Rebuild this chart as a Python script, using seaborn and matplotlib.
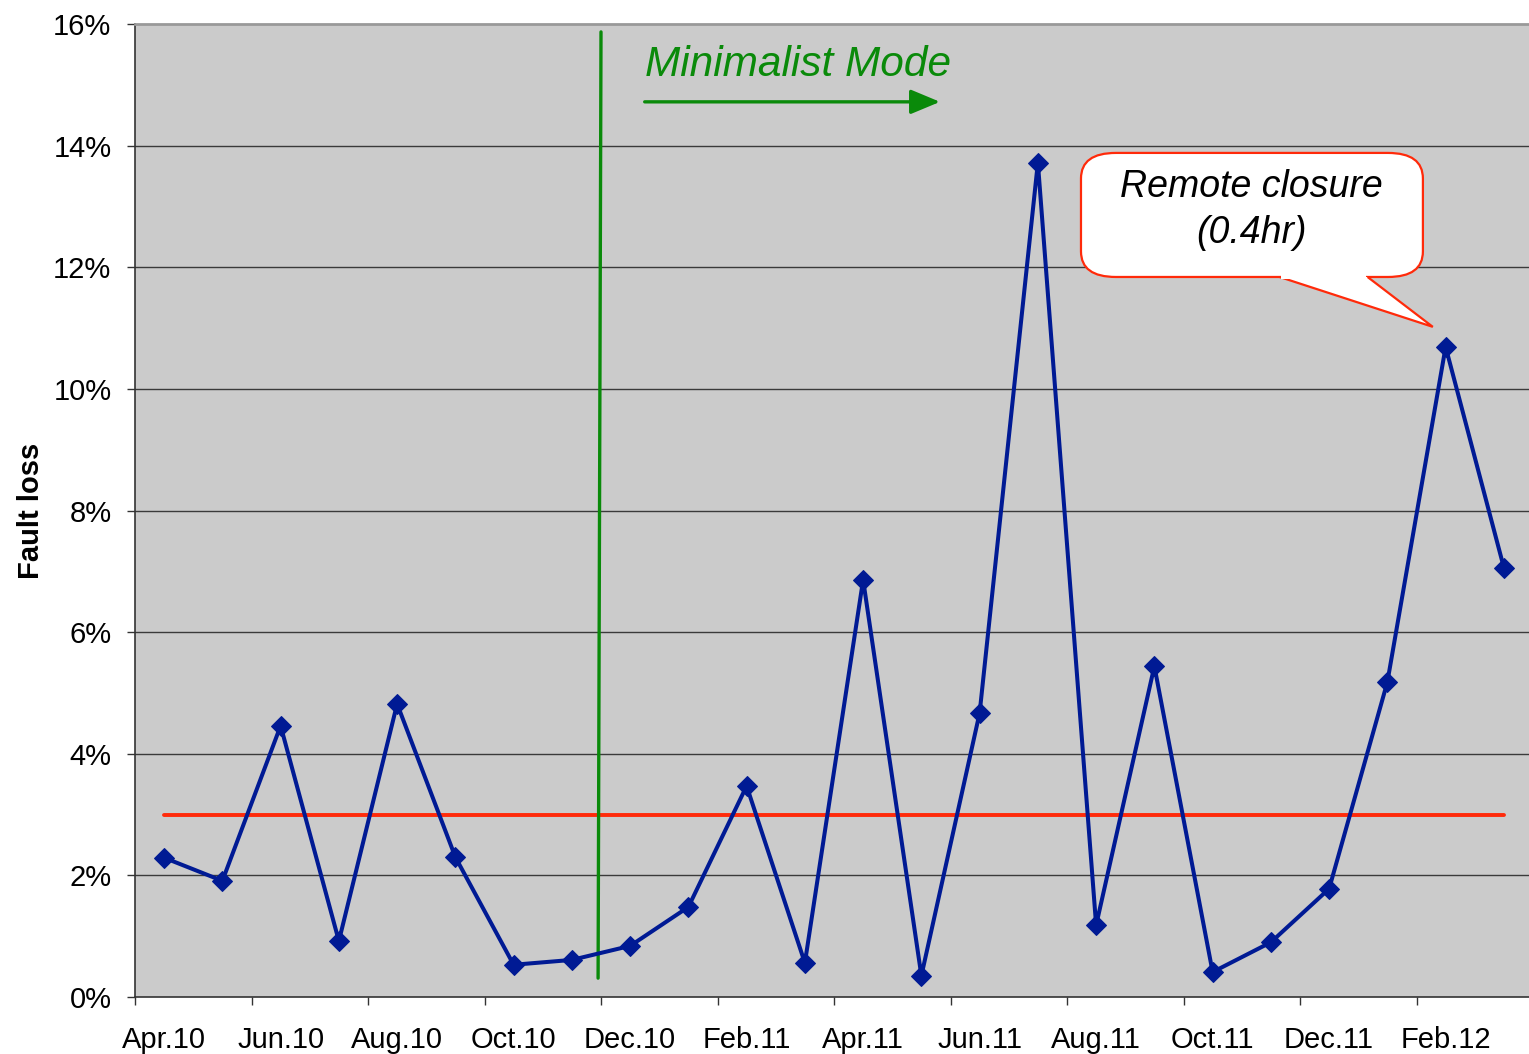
import numpy as np
import pandas as pd
import matplotlib
matplotlib.use("Agg")
import matplotlib.pyplot as plt
import seaborn as sns
from matplotlib.patches import FancyBboxPatch, Polygon

# Monthly fault loss (%) Apr.10 - Mar.12
months = ["Apr.10", "May.10", "Jun.10", "Jul.10", "Aug.10", "Sep.10",
          "Oct.10", "Nov.10", "Dec.10", "Jan.11", "Feb.11", "Mar.11",
          "Apr.11", "May.11", "Jun.11", "Jul.11", "Aug.11", "Sep.11",
          "Oct.11", "Nov.11", "Dec.11", "Jan.12", "Feb.12", "Mar.12"]
fault_loss = [2.29, 1.91, 4.46, 0.92, 4.82, 2.30,
              0.53, 0.61, 0.84, 1.48, 3.47, 0.56,
              6.86, 0.35, 4.67, 13.72, 1.18, 5.44,
              0.41, 0.90, 1.78, 5.18, 10.69, 7.06]
target = 3.0
y_ticks = [0, 2, 4, 6, 8, 10, 12, 14, 16]

df = pd.DataFrame({"idx": np.arange(len(months)), "month": months,
                   "loss": fault_loss})

sns.set_style("white", {"axes.facecolor": "#cbcbcb"})
plt.rcParams["font.family"] = ["Liberation Sans", "DejaVu Sans"]
plt.rcParams["text.color"] = "black"
plt.rcParams["xtick.color"] = "black"
plt.rcParams["ytick.color"] = "black"
plt.rcParams["axes.labelcolor"] = "black"

fig = plt.figure(figsize=(15.29, 10.54), dpi=100)
# plot area runs slightly past the right edge of the picture
ax = fig.add_axes([135 / 1529, 57 / 1054, 1398 / 1529, 973 / 1054])

n = len(months)
ax.set_xlim(-0.5, n - 0.5)
ax.set_ylim(0, 16)

# grid lines
for yv in y_ticks[1:-1]:
    ax.axhline(yv, color="#3a3a3a", lw=1.0, zorder=1)

# target line
ax.plot([0, n - 1], [target, target], color="#ff2a0a", lw=2.8, zorder=2)

# minimalist mode marker
green = "#0a8a0a"
ax.plot([7.5, 7.45], [15.87, 0.31], color=green, lw=2.4, zorder=2)
ax.annotate("", xy=(13.32, 14.72), xytext=(8.25, 14.72),
            arrowprops=dict(arrowstyle="-|>,head_length=1.8,head_width=0.75",
                            color=green, lw=2.4, shrinkA=0, shrinkB=0),
            zorder=3)
ax.text(8.25, 15.33, "Minimalist Mode", color=green, fontsize=30.5,
        style="italic", ha="left", va="center", zorder=3)

sns.lineplot(data=df, x="idx", y="loss", ax=ax, color="#001a94", lw=2.9,
             marker="D", markersize=10.5, markeredgecolor="#001a94", zorder=4)

# callout for the Feb.12 peak
pk = 22
px, py = pk - 0.22, fault_loss[pk] + 0.33
bx0, bx1, by0, by1 = 15.74, 21.61, 11.84, 13.88
box = FancyBboxPatch((bx0, by0), bx1 - bx0, by1 - by0,
                     boxstyle="round,pad=0,rounding_size=0.6",
                     mutation_aspect=0.7,
                     facecolor="white", edgecolor="#ff2a0a", lw=1.6, zorder=5)
ax.add_patch(box)
tail = Polygon([(19.15, by0), (px, py), (20.66, by0)], closed=False,
               facecolor="white", edgecolor="#ff2a0a", lw=1.6, zorder=6)
ax.add_patch(tail)
ax.add_patch(Polygon([(19.18, by0 + 0.04), (20.63, by0 + 0.04),
                      (20.63, by0 - 0.03), (19.18, by0 - 0.03)],
                     facecolor="white", edgecolor="none", zorder=7))
ax.text(18.67, 12.94, "Remote closure\n(0.4hr)", fontsize=27, style="italic",
        ha="center", va="center", linespacing=1.35, zorder=8)

# axes styling
ax.set_yticks(y_ticks)
ax.set_yticklabels([f"{v}%" for v in y_ticks], fontsize=21)
ax.set_xticks(np.arange(-0.5, n, 2))
ax.set_xticklabels([])
ax.set_xticks(np.arange(0, n, 2), minor=True)
ax.set_xticklabels(months[::2], minor=True, fontsize=21)
ax.tick_params(axis="x", which="major", length=6, width=1, color="#333333",
               direction="out", bottom=True)
ax.tick_params(axis="x", which="minor", length=0, pad=21)
ax.tick_params(axis="y", length=6, width=1, color="#333333", direction="out",
               left=True, pad=11)
ax.set_xlabel("")
ax.set_ylabel("Fault loss", fontsize=21, fontweight="bold", labelpad=6)

for side in ["left", "bottom"]:
    ax.spines[side].set_color("#333333")
    ax.spines[side].set_linewidth(1.2)
ax.spines["top"].set_color("#999999")
ax.spines["top"].set_linewidth(2)
ax.spines["right"].set_visible(False)

fig.savefig("out.png", dpi=100)
